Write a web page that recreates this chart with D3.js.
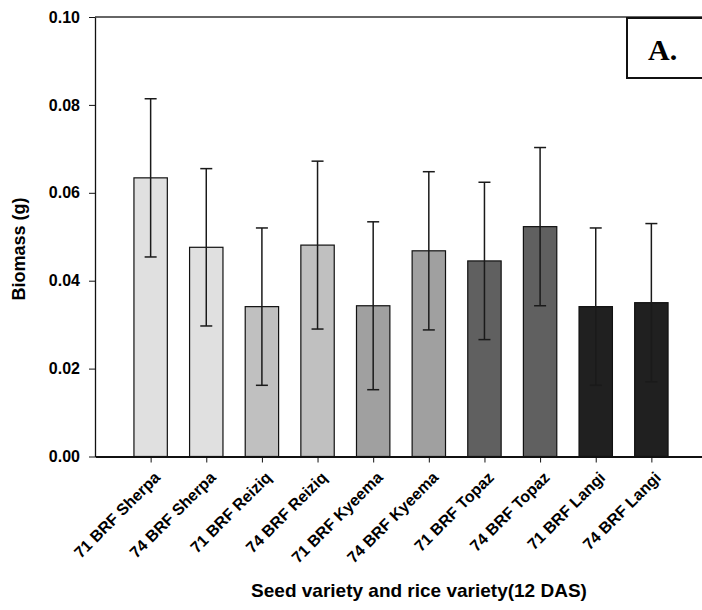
<!DOCTYPE html>
<html>
<meta charset="utf-8">
<head>
  <script src="https://d3js.org/d3.v7.min.js"></script>
  <style>
    body { margin: 0; background: #fff; }
    text { font-family: Arial, "Liberation Sans", sans-serif; font-weight: bold; }
  </style>
</head>
<body>
<div id="chart"></div>
<script>
// data
var treatments = ["71 BRF Sherpa", "74 BRF Sherpa", "71 BRF Reiziq", "74 BRF Reiziq",
                  "71 BRF Kyeema", "74 BRF Kyeema", "71 BRF Topaz", "74 BRF Topaz",
                  "71 BRF Langi", "74 BRF Langi"];
var biomass = [0.0634, 0.0476, 0.0341, 0.0481, 0.0343, 0.0468, 0.0445, 0.0523, 0.0341, 0.0350];
var errors  = [0.0180, 0.0179, 0.0179, 0.0191, 0.0191, 0.0180, 0.0179, 0.0180, 0.0179, 0.0180];
var barFills = ["#e0e0e0", "#e0e0e0", "#c0c0c0", "#c0c0c0", "#a0a0a0",
                "#a0a0a0", "#606060", "#606060", "#202020", "#202020"];
var yTicks = [0, 0.02, 0.04, 0.06, 0.08, 0.10];

var W = 702, H = 610;
var margin = {top: 17, left: 95, bottom: 153.5};
var plotW = 612, plotH = H - margin.top - margin.bottom;

var svg = d3.select("#chart").append("svg")
    .attr("width", W).attr("height", H);

var g = svg.append("g")
    .attr("transform", "translate(" + margin.left + "," + margin.top + ")");

var x = d3.scalePoint().domain(treatments).range([0, plotW]).padding(1);
var y = d3.scaleLinear().domain([0, 0.10]).range([plotH, 0]);
var barW = x.step() * 0.6;

// top frame line
g.append("line")
    .attr("x1", 0).attr("x2", plotW)
    .attr("y1", 0).attr("y2", 0)
    .attr("stroke", "#333").attr("stroke-width", 1.3);

// bars
g.selectAll("rect.bar")
  .data(treatments)
  .enter().append("rect")
    .attr("class", "bar")
    .attr("x", function(d) { return x(d) - barW / 2; })
    .attr("y", function(d, i) { return y(biomass[i]); })
    .attr("width", barW)
    .attr("height", function(d, i) { return plotH - y(biomass[i]); })
    .attr("fill", function(d, i) { return barFills[i]; })
    .attr("stroke", "#111").attr("stroke-width", 1.2);

// error bars
var err = g.selectAll("g.err")
  .data(treatments)
  .enter().append("g").attr("class", "err")
    .attr("stroke", "#1a1a1a").attr("stroke-width", 1.5);
err.append("line")
    .attr("x1", function(d) { return x(d); })
    .attr("x2", function(d) { return x(d); })
    .attr("y1", function(d, i) { return y(biomass[i] + errors[i]); })
    .attr("y2", function(d, i) { return y(biomass[i] - errors[i]); });
[1, -1].forEach(function(s) {
  err.append("line")
    .attr("x1", function(d) { return x(d) - 6; })
    .attr("x2", function(d) { return x(d) + 6; })
    .attr("y1", function(d, i) { return y(biomass[i] + s * errors[i]); })
    .attr("y2", function(d, i) { return y(biomass[i] + s * errors[i]); });
});

// y axis
var yAxis = g.append("g")
    .call(d3.axisLeft(y).tickValues(yTicks).tickFormat(d3.format(".2f"))
          .tickSize(6).tickSizeOuter(0).tickPadding(9));
yAxis.selectAll("text").style("font-size", "16px").attr("fill", "#000");
yAxis.select(".domain").attr("stroke", "#111").attr("stroke-width", 1.3);
yAxis.selectAll(".tick line").attr("stroke", "#111");

// x axis
var xAxis = g.append("g")
    .attr("transform", "translate(0," + plotH + ")")
    .call(d3.axisBottom(x).tickSize(6).tickSizeOuter(0));
xAxis.select(".domain").attr("stroke", "#111").attr("stroke-width", 2);
xAxis.selectAll(".tick line").attr("stroke", "#111");
xAxis.selectAll("text")
    .style("font-size", "16px").attr("fill", "#000")
    .attr("text-anchor", "end")
    .attr("dy", null).attr("y", 0)
    .attr("transform", "translate(10,22) rotate(-45)");

// axis titles
svg.append("text")
    .attr("transform", "translate(25,249) rotate(-90)")
    .attr("text-anchor", "middle")
    .style("font-size", "18px")
    .text("Biomass (g)");

svg.append("text")
    .attr("x", 419).attr("y", 597)
    .attr("text-anchor", "middle")
    .style("font-size", "19px")
    .text("Seed variety and rice variety(12 DAS)");

// panel label box
svg.append("rect")
    .attr("x", 627).attr("y", 18)
    .attr("width", 100).attr("height", 60)
    .attr("fill", "#fff").attr("stroke", "#111").attr("stroke-width", 2);
svg.append("text")
    .attr("x", 648).attr("y", 60)
    .style("font-family", "'Liberation Serif', 'Times New Roman', serif")
    .style("font-size", "30px")
    .text("A.");
</script>
</body>
</html>
